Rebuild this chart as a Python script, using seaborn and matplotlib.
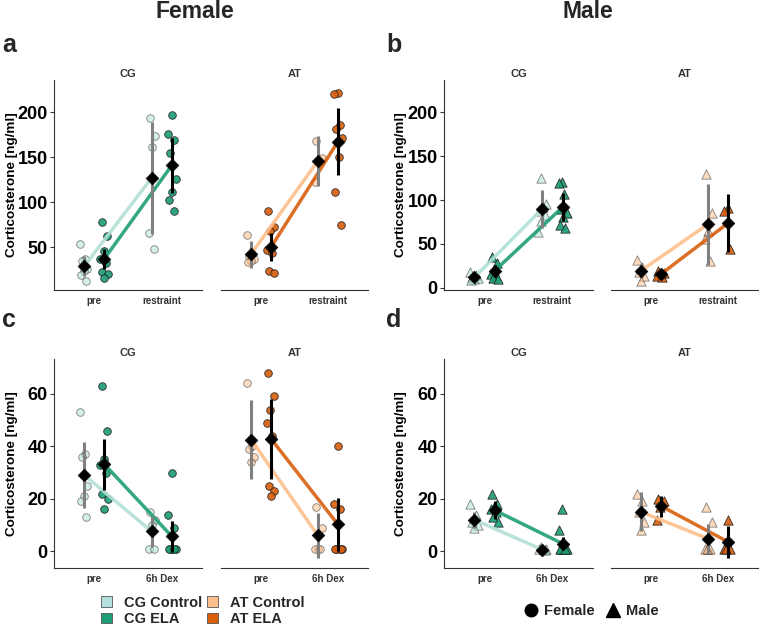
import numpy as np
import pandas as pd
import matplotlib
matplotlib.use("Agg")
import matplotlib.pyplot as plt
import seaborn as sns
from matplotlib.patches import Patch
from matplotlib.lines import Line2D

sns.set_theme(style="white")
plt.rcParams["font.family"] = ["Liberation Sans", "DejaVu Sans"]

# ---------------- data ----------------
conds = ["Control", "ELA"]
facets = ["CG", "AT"]
times_restraint = ["pre", "restraint"]
times_dex = ["pre", "6h Dex"]

# Panel a: Female, restraint
a_cg_control_pre = [54, 37, 35, 26, 24, 19, 13]
a_cg_control_post = [194, 174, 162, 66, 48]
a_cg_ela_pre = [78, 63, 46, 37, 32, 22, 20, 16]
a_cg_ela_post = [197, 176, 169, 155, 126, 111, 103, 90]
a_at_control_pre = [64, 42, 40, 37, 35, 34]
a_at_control_post = [168, 149, 146, 123]
a_at_ela_pre = [90, 73, 68, 47, 44, 24, 21]
a_at_ela_post = [222, 220, 186, 182, 171, 150, 112, 75]
# order: CG Ctrl pre/post, CG ELA pre/post, AT Ctrl pre/post, AT ELA pre/post
a_means = [29, 127, 37.4, 141, 42.5, 146, 50.3, 167.5]
a_sds = [11, 62, 11, 31, 15, 28, 16, 37]

# Panel b: Male, restraint
b_cg_control_pre = [18, 14, 12, 11, 10, 9]
b_cg_control_post = [125, 96, 92, 88, 83, 76, 64]
b_cg_ela_pre = [35, 28, 19, 16, 13, 11, 10]
b_cg_ela_post = [121, 119, 107, 90, 85, 81, 72, 68]
b_at_control_pre = [31, 24, 18, 13, 8]
b_at_control_post = [130, 85, 65, 55, 30]
b_at_ela_pre = [19, 17, 15, 13, 12]
b_at_ela_post = [91, 88, 44]
b_means = [11.8, 89.9, 19.4, 91.8, 19.4, 72.4, 15.6, 73.5]
b_sds = [3, 22, 7, 16, 8, 46, 2, 33]

# Panel c: Female, dexamethasone
c_cg_control_pre = [53, 37, 36, 25, 21, 19, 13]
c_cg_control_post = [15, 12, 10, 1, 1]
c_cg_ela_pre = [63, 46, 35, 33, 30, 22, 20, 16]
c_cg_ela_post = [30, 14, 9, 1, 1, 1, 1, 1]
c_at_control_pre = [64, 40, 39, 36, 34]
c_at_control_post = [17, 9, 1, 1, 1]
c_at_ela_pre = [68, 59, 54, 49, 44, 25, 23, 21]
c_at_ela_post = [40, 18, 16, 1, 1, 1, 1, 1]
c_means = [29, 7.6, 33.1, 5.7, 42.6, 6, 42.8, 10.2]
c_sds = [12.6, 6, 9.7, 6, 15, 8.6, 15.3, 10]

# Panel d: Male, dexamethasone
d_cg_control_pre = [18, 14, 11, 10, 9]
d_cg_control_post = [1.5, 1, 1, 1, 0.5]
d_cg_ela_pre = [22, 18, 17, 16, 15, 13, 11]
d_cg_ela_post = [16, 8, 1, 1, 1, 1, 1, 1]
d_at_control_pre = [22, 19, 15, 11, 8]
d_at_control_post = [17, 11, 1, 1, 1, 1]
d_at_ela_pre = [20, 19, 17, 12]
d_at_ela_post = [12, 1, 1, 1]
d_means = [12, 0.6, 15.6, 2.9, 15, 4.8, 17.2, 3.6]
d_sds = [3, 0.5, 3.5, 2.5, 7.4, 5.7, 4, 6.1]

legend_labels = ["CG Control", "CG ELA", "AT Control", "AT ELA"]
colors = {"CG Control": "#b2e0d6", "CG ELA": "#1f9e78",
          "AT Control": "#fdbf8b", "AT ELA": "#d95f0e"}
legend_colors = {"CG Control": "#b3e0de", "CG ELA": "#1b9e77",
                 "AT Control": "#fdc08c", "AT ELA": "#d95f02"}

# ---------------- figure ----------------
W, H = 759, 625
fig = plt.figure(figsize=(W / 100, H / 100), dpi=100)


def px_axes(x0, x1, y0, y1):
    return fig.add_axes([x0 / W, 1 - y1 / H, (x1 - x0) / W, (y1 - y0) / H])


offs = {"Control": -0.15, "ELA": 0.15}
AX = "#333333"


def draw_facet(ax, raw, means, sds, times, marker, msize, ylim, yticks, facet, show_y):
    rows = []
    for ci, cond in enumerate(conds):
        for ti in range(2):
            vals = raw[ci][ti]
            n = len(vals)
            jit = (((np.arange(n) * 0.618034) + 0.31 * ti + 0.17 * ci) % 1 - 0.5) * 0.13
            for v, j in zip(vals, jit):
                rows.append(dict(cond=cond, t=ti, x=ti + offs[cond] + j, value=v))
    df = pd.DataFrame(rows)
    srows = []
    for ci, cond in enumerate(conds):
        for ti in range(2):
            srows.append(dict(cond=cond, t=ti, x=ti + offs[cond],
                              mean=means[ci * 2 + ti], sd=sds[ci * 2 + ti]))
    sm = pd.DataFrame(srows)

    for cond in conds:
        key = f"{facet} {cond}"
        sub = df[df.cond == cond]
        sns.scatterplot(data=sub, x="x", y="value", ax=ax, marker=marker, s=msize,
                        color=colors[key], edgecolor="#222222", linewidth=0.6,
                        alpha=0.55 if cond == "Control" else 0.92, legend=False, zorder=2)
    pal = {c: colors[f"{facet} {c}"] for c in conds}
    sns.lineplot(data=sm, x="x", y="mean", hue="cond", palette=pal, ax=ax, lw=2.5,
                 legend=False, errorbar=None, zorder=3, alpha=0.9)
    for cond in conds:
        sub = sm[sm.cond == cond]
        ax.vlines(sub["x"], sub["mean"] - sub["sd"], sub["mean"] + sub["sd"],
                  color="#808080" if cond == "Control" else "black", lw=2.2, zorder=4)
    sns.scatterplot(data=sm, x="x", y="mean", ax=ax, marker="D", s=44, color="black",
                    edgecolor="black", linewidth=0.3, legend=False, zorder=5)

    ax.set_xlim(-0.6, 1.6)
    ax.set_ylim(*ylim)
    ax.set_xticks([0, 1])
    ax.set_xticklabels(times, fontsize=7, fontweight="bold", color=AX)
    ax.set_xlabel("")
    ax.set_title(facet, fontsize=8, fontweight="bold", color=AX, pad=2.5)
    for s in ["top", "right"]:
        ax.spines[s].set_visible(False)
    ax.spines["bottom"].set_color(AX)
    ax.spines["bottom"].set_linewidth(0.8)
    ax.tick_params(axis="x", length=3, width=0.8, color=AX, pad=1.5)
    if show_y:
        ax.spines["left"].set_color(AX)
        ax.spines["left"].set_linewidth(0.8)
        ax.set_yticks(yticks)
        ax.set_yticklabels([str(t) for t in yticks], fontsize=13, fontweight="bold",
                           color="black")
        ax.tick_params(axis="y", length=3, width=0.8, color=AX, pad=1.5, left=True)
        ax.set_ylabel("Corticosterone [ng/ml]", fontsize=9.7, fontweight="bold",
                      color="black")
        ax.yaxis.set_label_coords(-0.245, 0.5)
    else:
        ax.spines["left"].set_visible(False)
        ax.set_yticks(yticks)
        ax.tick_params(axis="y", left=False, labelleft=False)
        ax.set_ylabel("")
    ax.grid(False)
    ax.set_facecolor("white")


panels = [
    dict(label="a", lx=2, ly=52, times=times_restraint, marker="o", ms=30,
         ylim=(2.5, 236), yticks=[50, 100, 150, 200], xs=(54, 202, 221, 368), ys=(80, 290),
         cg=[[a_cg_control_pre, a_cg_control_post], [a_cg_ela_pre, a_cg_ela_post]],
         at=[[a_at_control_pre, a_at_control_post], [a_at_ela_pre, a_at_ela_post]],
         means=a_means, sds=a_sds),
    dict(label="b", lx=386, ly=52, times=times_restraint, marker="^", ms=45,
         ylim=(-2.7, 237), yticks=[0, 50, 100, 150, 200], xs=(444, 593, 611, 758), ys=(80, 290),
         cg=[[b_cg_control_pre, b_cg_control_post], [b_cg_ela_pre, b_cg_ela_post]],
         at=[[b_at_control_pre, b_at_control_post], [b_at_ela_pre, b_at_ela_post]],
         means=b_means, sds=b_sds),
    dict(label="c", lx=2, ly=327, times=times_dex, marker="o", ms=30,
         ylim=(-6.4, 73.3), yticks=[0, 20, 40, 60], xs=(54, 202, 221, 368), ys=(359, 568),
         cg=[[c_cg_control_pre, c_cg_control_post], [c_cg_ela_pre, c_cg_ela_post]],
         at=[[c_at_control_pre, c_at_control_post], [c_at_ela_pre, c_at_ela_post]],
         means=c_means, sds=c_sds),
    dict(label="d", lx=386, ly=327, times=times_dex, marker="^", ms=45,
         ylim=(-6.4, 73.3), yticks=[0, 20, 40, 60], xs=(444, 593, 611, 758), ys=(359, 568),
         cg=[[d_cg_control_pre, d_cg_control_post], [d_cg_ela_pre, d_cg_ela_post]],
         at=[[d_at_control_pre, d_at_control_post], [d_at_ela_pre, d_at_ela_post]],
         means=d_means, sds=d_sds),
]

for p in panels:
    x0, x1, x2, x3 = p["xs"]
    y0, y1 = p["ys"]
    ax_cg = px_axes(x0, x1, y0, y1)
    ax_at = px_axes(x2, x3, y0, y1)
    draw_facet(ax_cg, p["cg"], p["means"][:4], p["sds"][:4], p["times"], p["marker"],
               p["ms"], p["ylim"], p["yticks"], "CG", True)
    draw_facet(ax_at, p["at"], p["means"][4:], p["sds"][4:], p["times"], p["marker"],
               p["ms"], p["ylim"], p["yticks"], "AT", False)
    fig.text(p["lx"] / W, 1 - p["ly"] / H, p["label"], fontsize=18, fontweight="bold",
             ha="left", va="baseline")

fig.text(195 / W, 1 - 11 / H, "Female", fontsize=16.5, fontweight="bold", ha="center", va="center")
fig.text(588 / W, 1 - 11 / H, "Male", fontsize=16.5, fontweight="bold", ha="center", va="center")

handles = [Patch(facecolor=legend_colors[k], edgecolor="#555555", linewidth=0.6)
           for k in legend_labels]
fig.legend(handles, legend_labels, ncol=2, loc="center left",
           bbox_to_anchor=(94 / W, 1 - 611 / H), frameon=False,
           prop=dict(weight="bold", size=10.5), handlelength=0.75, handleheight=0.75,
           handletextpad=0.8, columnspacing=0.35, labelspacing=0.15, borderpad=0)

sex_handles = [Line2D([], [], marker="o", color="black", ls="", ms=9),
               Line2D([], [], marker="^", color="black", ls="", ms=10)]
fig.legend(sex_handles, ["Female", "Male"], ncol=2, loc="center left",
           bbox_to_anchor=(516 / W, 1 - 611 / H), frameon=False,
           prop=dict(weight="bold", size=10.5), handlelength=1.0,
           handletextpad=0.4, columnspacing=0.8, borderpad=0)

fig.savefig("out.png", dpi=100, facecolor="white")
